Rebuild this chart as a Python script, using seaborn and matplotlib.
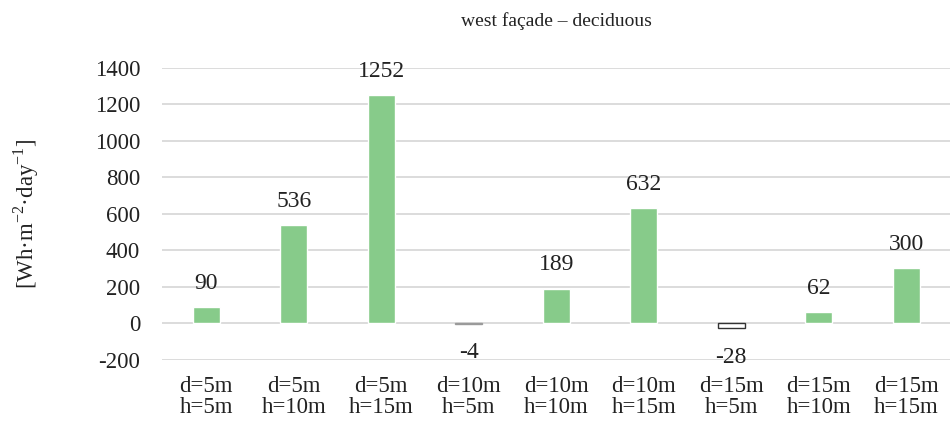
import numpy as np
import pandas as pd
import seaborn as sns
from matplotlib import pyplot as plt

categories = ['d=5m\nh=5m', 'd=5m\nh=10m', 'd=5m\nh=15m',
              'd=10m\nh=5m', 'd=10m\nh=10m', 'd=10m\nh=15m',
              'd=15m\nh=5m', 'd=15m\nh=10m', 'd=15m\nh=15m']
values = [90, 536, 1252, -4, 189, 632, -28, 62, 300]
yticks = [-200, 0, 200, 400, 600, 800, 1000, 1200, 1400]

sns.set_style('white')
plt.rcParams['font.family'] = ['Liberation Serif', 'DejaVu Serif']
plt.rcParams['mathtext.fontset'] = 'custom'
plt.rcParams['mathtext.rm'] = 'Liberation Serif'

df = pd.DataFrame({'cat': categories, 'val': values})

fig = plt.figure(figsize=(9.5, 4.21), dpi=100)
ax = fig.add_axes([0.171, 0.146, 0.829, 0.693])
sns.barplot(data=df, x='cat', y='val', color='#87cb8a', saturation=1,
            width=0.31, ax=ax, zorder=3)

for p, v in zip(ax.patches, values):
    if v < 0:
        p.set_facecolor('white')
        p.set_edgecolor('#333333' if v < -10 else '#9a9a9a')
        p.set_linewidth(1.0)
    off = 17 if v >= 0 else -21
    ax.annotate(str(v), (p.get_x() + p.get_width() / 2, v),
                xytext=(0, off), textcoords='offset points',
                ha='center', va='center', fontsize=17,
                color='#222222')

ax.set_ylim(-200, 1400)
ax.set_xlim(-0.5, 8.5)
ax.set_yticks(yticks)
ax.set_yticklabels([str(t) for t in yticks])
ax.yaxis.grid(True, color='#d9d9d9', lw=1.3, zorder=0)
ax.set_axisbelow(True)
for s in ax.spines.values():
    s.set_visible(False)
ax.tick_params(axis='both', length=0, labelsize=16.5, colors='#222222')
ax.tick_params(axis='y', pad=16)
ax.tick_params(axis='x', pad=12)
for t in ax.get_xticklabels():
    t.set_linespacing(1.0)
ax.set_xlabel('')
ax.set_ylabel(r'[Wh·m$^{\mathrm{-2}}$·day$^{\mathrm{-1}}$]', fontsize=16.5,
              color='#222222', labelpad=39)
ax.set_title('west façade – deciduous', fontsize=14, color='#222222', pad=30)

plt.savefig('out.png', dpi=100)
